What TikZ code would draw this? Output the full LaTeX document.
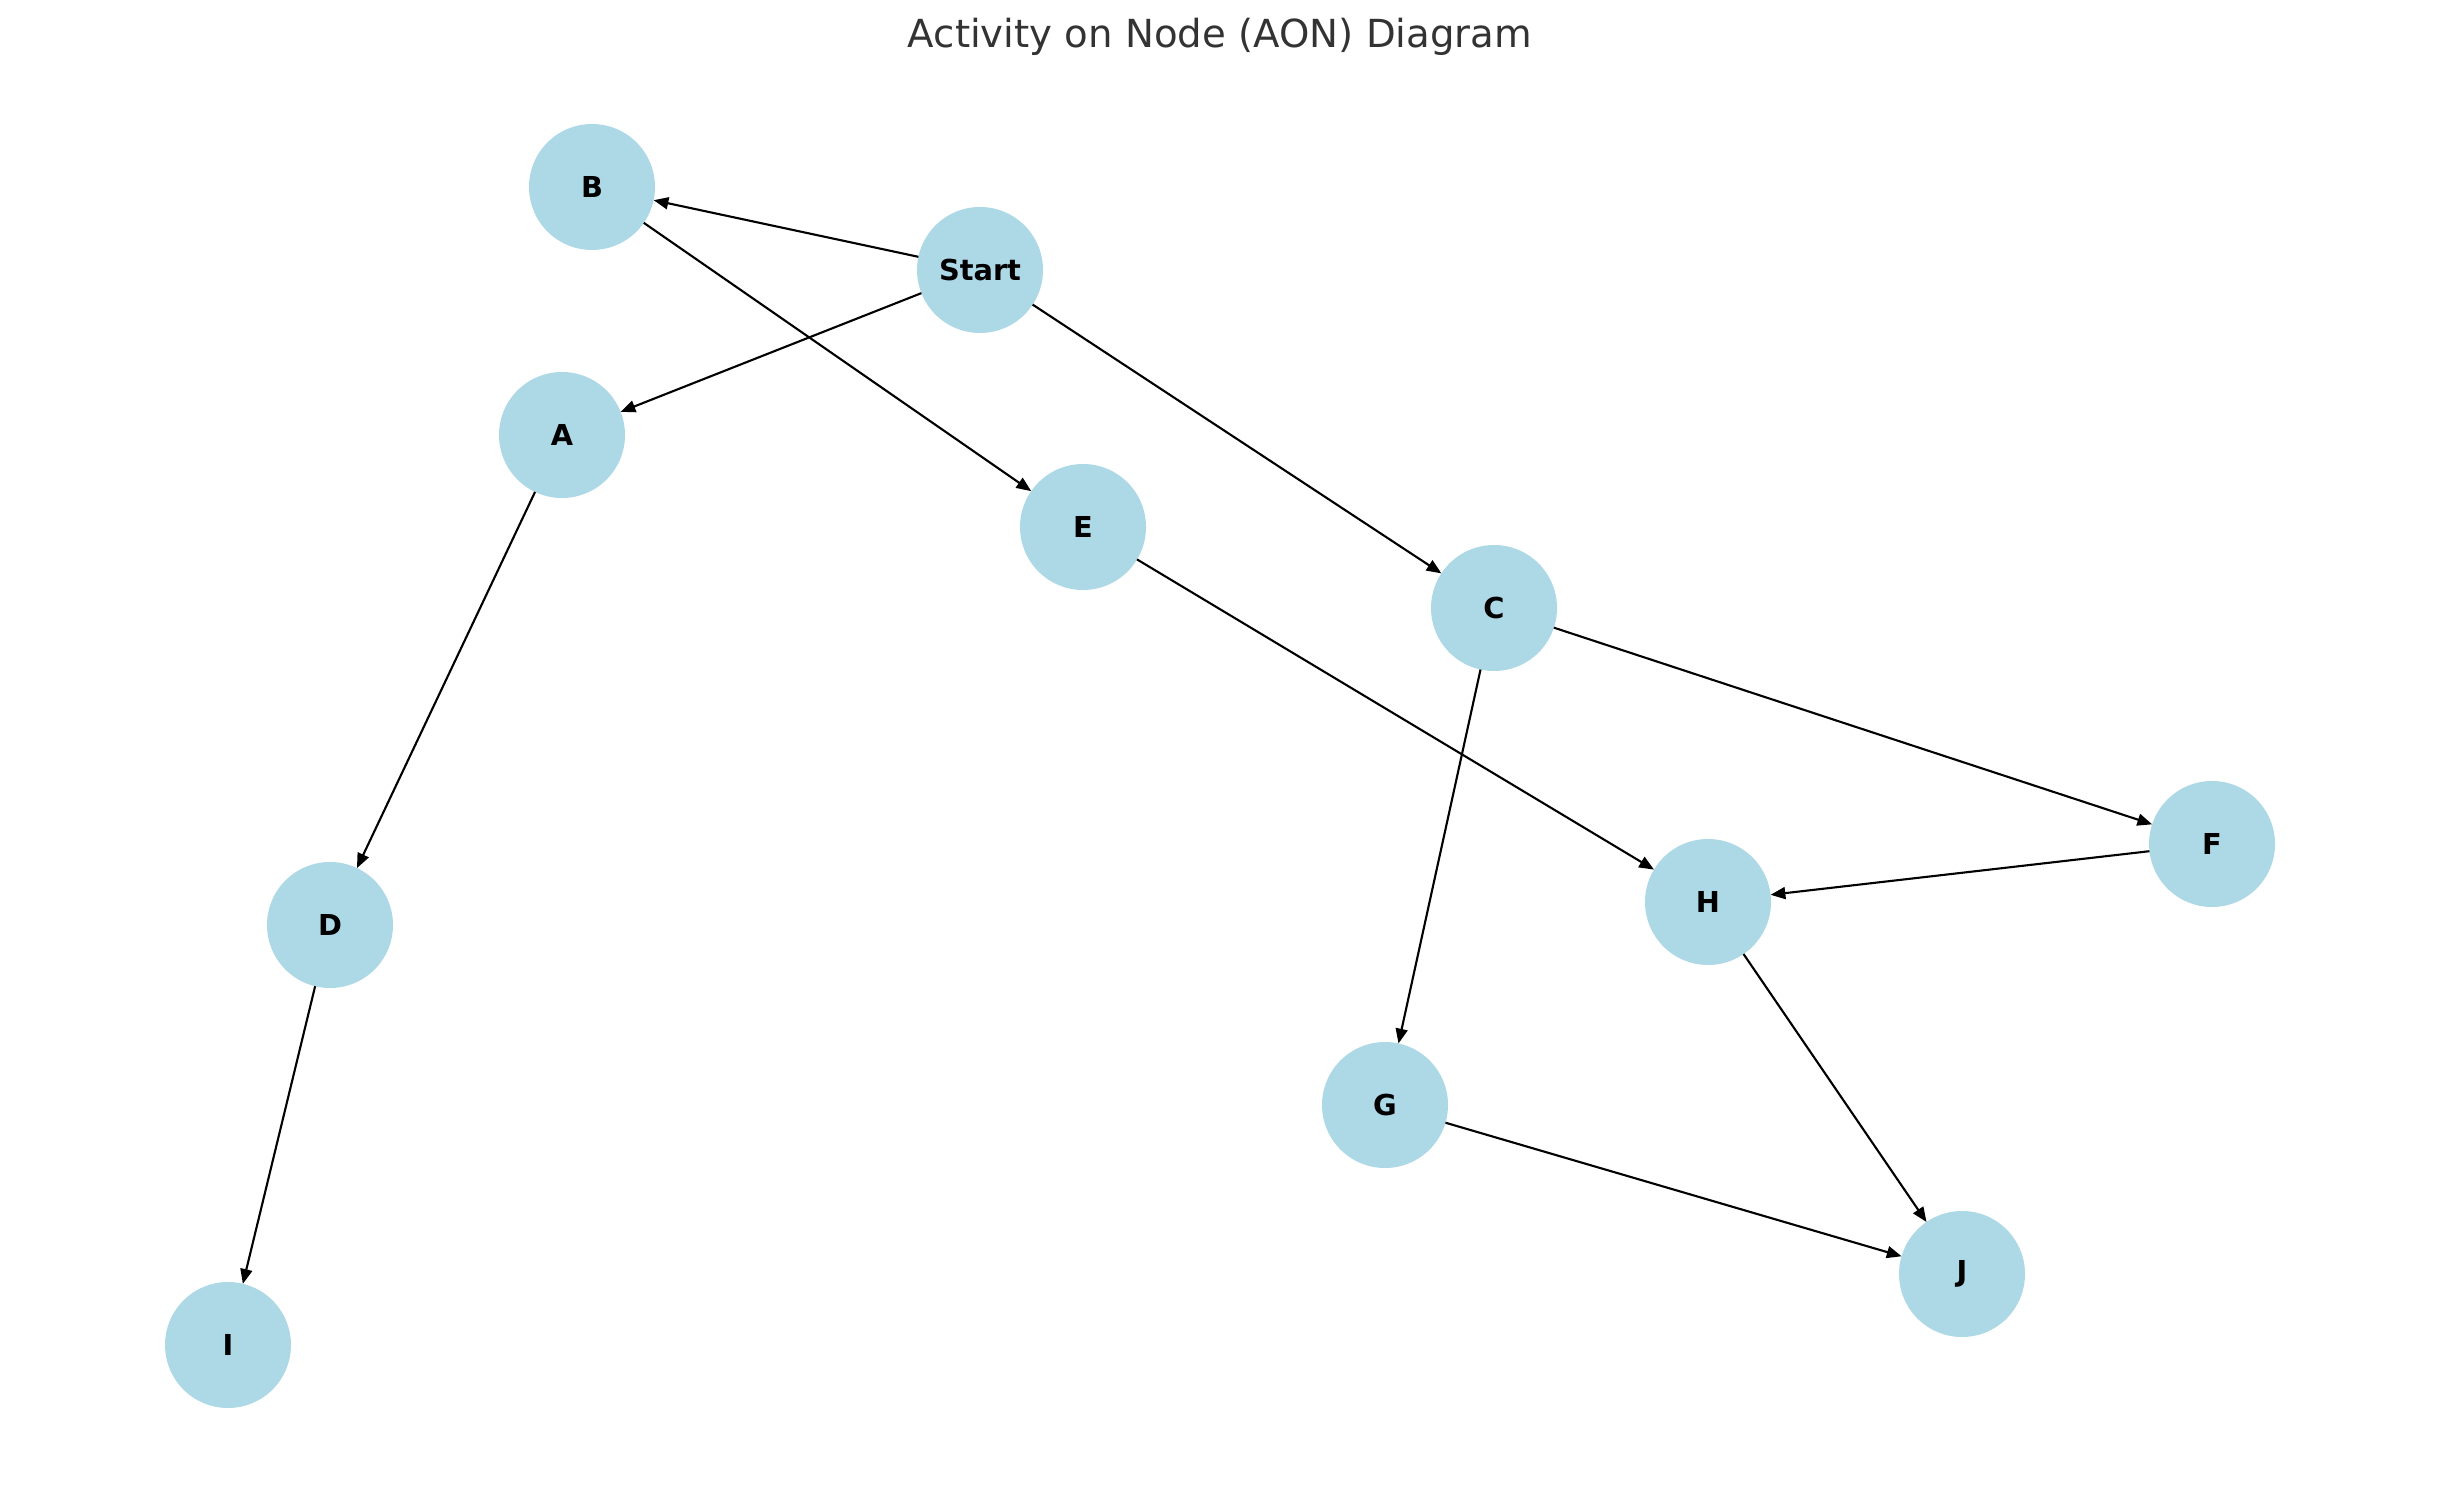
\documentclass[tikz,border=0pt]{standalone}
\usepackage{fontspec}
\setmainfont{DejaVu Sans}
\usepackage{tikz}
\usetikzlibrary{arrows.meta, positioning}
\definecolor{lightblue}{HTML}{ADD8E6}
\definecolor{titlegray}{HTML}{333333}
\tikzset{>={Triangle[length=4.2pt,width=3.4pt]}}

\begin{document}
\begin{tikzpicture}[activity/.style={circle,fill=lightblue,minimum size=1.26cm,inner sep=0pt,outer sep=0pt,font=\fontsize{8.2}{10}\selectfont\bfseries},
        link/.style={->,line width=0.6pt}]
        \useasboundingbox (0,0) rectangle (24.40,14.86);
        \node (title) at (12.20,14.49){\fontsize{11}{13}\selectfont\color{titlegray}Activity on Node (AON) Diagram};
        % activities
        \node (start) at (9.80,12.16)[activity]{Start};
        \node (b) at (5.92,12.99)[activity]{B};
        \node (a) at (5.62,10.51)[activity]{A};
        \node (e) at (10.83,9.59)[activity]{E};
        \node (c) at (14.94,8.78)[activity]{C};
        \node (f) at (22.12,6.42)[activity]{F};
        \node (h) at (17.08,5.84)[activity]{H};
        \node (d) at (3.30,5.61)[activity]{D};
        \node (g) at (13.85,3.81)[activity]{G};
        \node (j) at (19.62,2.12)[activity]{J};
        \node (i) at (2.28,1.41)[activity]{I};
        % precedences
        \draw [link](start)--(b);
        \draw [link](start)--(a);
        \draw [link](start)--(c);
        \draw [link](b)--(e);
        \draw [link](a)--(d);
        \draw [link](e)--(h);
        \draw [link](c)--(f);
        \draw [link](c)--(g);
        \draw [link](f)--(h);
        \draw [link](h)--(j);
        \draw [link](g)--(j);
        \draw [link](d)--(i);
\end{tikzpicture}
\end{document}
